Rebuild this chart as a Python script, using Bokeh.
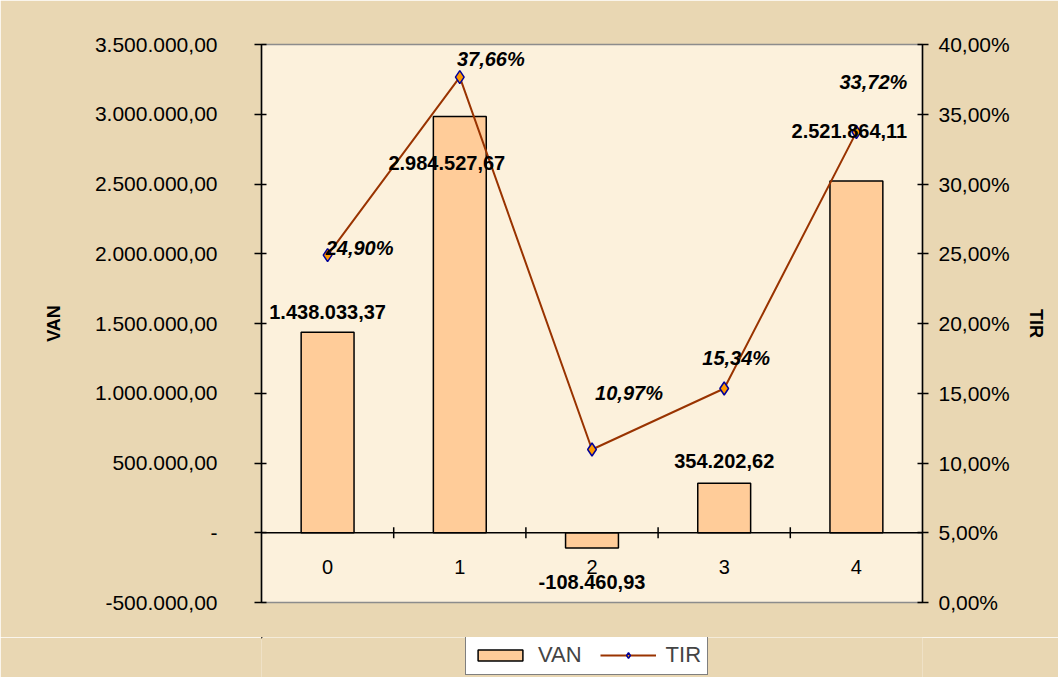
from bokeh.plotting import figure
from bokeh.layouts import column
from bokeh.models import (Range1d, LinearAxis, FixedTicker, Span, Legend, LegendItem,
                          ColumnDataSource)
from bokeh.core.properties import value
from bokeh.embed import file_html
from bokeh.resources import INLINE

# ---- data ----
categories = ["0", "1", "2", "3", "4"]
van = [1438033.37, 2984527.67, -108460.93, 354202.62, 2521864.11]
tir = [24.90, 37.66, 10.97, 15.34, 33.72]
van_labels = ["1.438.033,37", "2.984.527,67", "-108.460,93", "354.202,62", "2.521.864,11"]
tir_labels = ["24,90%", "37,66%", "10,97%", "15,34%", "33,72%"]
van_ticks = [-500000, 0, 500000, 1000000, 1500000, 2000000, 2500000, 3000000, 3500000]
van_tick_labels = ["-500.000,00", "-", "500.000,00", "1.000.000,00", "1.500.000,00",
                   "2.000.000,00", "2.500.000,00", "3.000.000,00", "3.500.000,00"]
tir_ticks = [0, 5, 10, 15, 20, 25, 30, 35, 40]
tir_tick_labels = ["0,00%", "5,00%", "10,00%", "15,00%", "20,00%",
                   "25,00%", "30,00%", "35,00%", "40,00%"]

# label nudges (screen px)
van_dx = [0, -13, 0, 0, -7]
van_dy = [20, -47, -34, 22, 50]   # positive = up
tir_dx = [32, 31, 37, 12, 17]
tir_dy = [7, 18, 56, 31, 50]

FONT = "Liberation Sans"
BG = "#E9D7B3"
xs = list(range(len(categories)))

BAR_STYLE = dict(fill_color="#FFCC99", line_color="black", line_width=1.5)
LINE_STYLE = dict(line_color="#993300", line_width=2)
MARK_STYLE = dict(marker="diamond", size=13, fill_color="#FF9900", line_color="#000099",
                  line_width=1.5)

p = figure(width=1058, height=637, output_backend="svg", toolbar_location=None,
           x_range=Range1d(-0.5, len(categories) - 0.5),
           y_range=Range1d(van_ticks[0], van_ticks[-1]),
           x_axis_location=None, min_border_left=261, min_border_right=136,
           min_border_top=44, min_border_bottom=35)
p.extra_y_ranges = {"tir": Range1d(tir_ticks[0], tir_ticks[-1])}
p.grid.visible = False
p.background_fill_color = "#FCF1DC"
p.border_fill_color = BG
p.outline_line_color = "#8C8C8C"
p.outline_line_width = 1.5

# left axis
ax = p.yaxis[0]
ax.ticker = FixedTicker(ticks=van_ticks)
ax.major_label_overrides = {t: l for t, l in zip(van_ticks, van_tick_labels)}
ax.minor_tick_line_color = None
ax.major_tick_out = 7
ax.major_tick_in = 5
ax.major_label_standoff = 37
ax.axis_line_color = "black"
ax.axis_line_width = 1.5
ax.major_tick_line_width = 1.5
ax.major_label_text_font = FONT
ax.major_label_text_font_size = "21px"
ax.major_label_text_color = "black"
ax.axis_label = "VAN"
ax.axis_label_text_font = FONT
ax.axis_label_text_font_style = "bold"
ax.axis_label_text_font_size = "18px"
ax.axis_label_text_color = "black"
ax.axis_label_standoff = 28

# right axis
rax = LinearAxis(y_range_name="tir", ticker=FixedTicker(ticks=tir_ticks))
rax.major_label_overrides = {t: l for t, l in zip(tir_ticks, tir_tick_labels)}
rax.minor_tick_line_color = None
rax.major_tick_out = 6
rax.major_tick_in = 5
rax.major_label_standoff = 10
rax.axis_line_width = 1.5
rax.major_tick_line_width = 1.5
rax.major_label_text_font = FONT
rax.major_label_text_font_size = "21px"
rax.major_label_text_color = "black"
rax.axis_label = "TIR"
rax.axis_label_text_font = FONT
rax.axis_label_text_font_style = "bold"
rax.axis_label_text_font_size = "18px"
rax.axis_label_text_color = "black"
rax.axis_label_standoff = 13
p.add_layout(rax, "right")

src = ColumnDataSource(dict(x=xs, van=van, lab=van_labels, dx=van_dx, dy=[-d for d in van_dy],
                            tir=tir, tlab=tir_labels, tdx=tir_dx, tdy=[-d for d in tir_dy],
                            cat=categories))
# bars
p.vbar(x="x", top="van", bottom=0, width=0.4, source=src, **BAR_STYLE)

# category axis at zero
p.add_layout(Span(location=0, dimension="width", line_color="black", line_width=1.5))
bounds = [i + 0.5 for i in xs[:-1]]
p.scatter(x=bounds, y=[0] * len(bounds), marker="dash", angle=1.5708, size=11,
          line_color="black", line_width=1.5)
p.text(x="x", y=0, text="cat", source=src, y_offset=34, text_align="center",
       text_baseline="middle", text_font=value(FONT), text_font_size="20px",
       text_color="black")

# line
p.line(x="x", y="tir", y_range_name="tir", source=src, **LINE_STYLE)
p.scatter(x="x", y="tir", y_range_name="tir", source=src, **MARK_STYLE)

# data labels
p.text(x="x", y="van", text="lab", source=src, x_offset="dx", y_offset="dy",
       text_align="center", text_baseline="middle", text_font=value(FONT),
       text_font_size="20px", text_font_style="bold", text_color="black")
p.text(x="x", y="tir", text="tlab", source=src, y_range_name="tir", x_offset="tdx",
       y_offset="tdy", text_align="center", text_baseline="middle",
       text_font=value(FONT), text_font_size="20px", text_font_style="bold italic",
       text_color="black")

# legend strip below the chart (same series, scrolled out of the strip's view)
lg = figure(width=1058, height=40, output_backend="svg", toolbar_location=None,
            x_axis_location=None, y_axis_location=None, min_border=0,
            x_range=Range1d(10, 15), y_range=Range1d(-5e6, -4e6))
lg.grid.visible = False
lg.outline_line_color = None
lg.background_fill_color = BG
lg.border_fill_color = BG
r_bar = lg.vbar(x="x", top="van", bottom=0, width=0.4, source=src, **BAR_STYLE)
r_line = lg.line(x="x", y="tir", source=src, **LINE_STYLE)
r_mark = lg.scatter(x="x", y="tir", source=src, **MARK_STYLE)
legend = Legend(items=[LegendItem(label="VAN", renderers=[r_bar]),
                       LegendItem(label="TIR", renderers=[r_line, r_mark])],
                orientation="horizontal", location=(204, 2),
                label_text_font=FONT, label_text_font_size="22px",
                glyph_width=56, glyph_height=14, label_standoff=10, spacing=18,
                padding=6, margin=0, border_line_color="black", border_line_width=1.5,
                background_fill_color="white", background_fill_alpha=1.0)
lg.add_layout(legend, "center")

layout = column(p, lg, spacing=0)
open("out.html", "w").write(file_html(layout, INLINE))
